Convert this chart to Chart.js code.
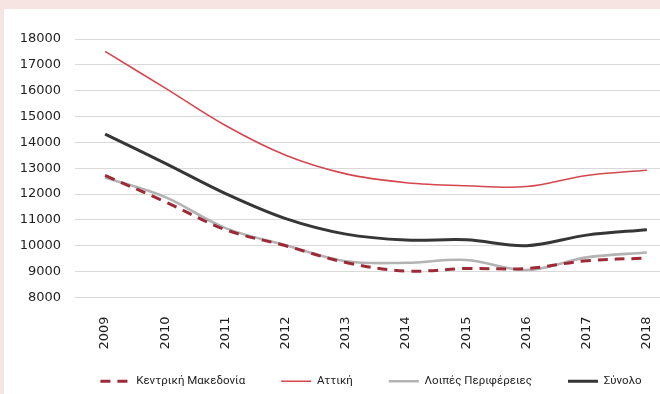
<!DOCTYPE html>
<html>
<head>
<meta charset="utf-8">
<script src="https://cdn.jsdelivr.net/npm/chart.js@4.4.1/dist/chart.umd.min.js"></script>
<style>
  html, body { margin: 0; padding: 0; width: 660px; height: 394px; overflow: hidden; background: #f5e4e1; }
  #panel { position: absolute; left: 4px; top: 9px; width: 760px; height: 440px; background: #fff; }
  #chart { position: absolute; left: 0; top: 0; }
</style>
</head>
<body>
<div id="panel"><canvas id="chart" width="734" height="409"></canvas></div>
<script>
  'use strict';

  // Years on the category axis
  const years = ['2009', '2010', '2011', '2012', '2013', '2014', '2015', '2016', '2017', '2018'];

  // Series values
  const kentrikiMakedonia = [12720, 11700, 10620, 10000, 9350, 9020, 9120, 9120, 9420, 9520];
  const attiki = [17520, 16100, 14650, 13500, 12780, 12440, 12320, 12290, 12720, 12920];
  const loipesPerifereies = [12640, 11880, 10680, 10020, 9400, 9340, 9450, 9060, 9550, 9740];
  const synolo = [14320, 13190, 12020, 11050, 10450, 10220, 10230, 10000, 10410, 10620];

  // Y axis range
  const yMin = 8000;
  const yMax = 18000;
  const yStep = 1000;

  const tickFont = { family: 'DejaVu Sans', size: 13 };

  // Pull the legend a bit closer to the axis labels
  const legendLift = {
    id: 'legendLift',
    afterLayout: function (chart) {
      if (chart.legend) chart.legend.top -= 21;
    }
  };

  const ctx = document.getElementById('chart');

  new Chart(ctx, {
    type: 'line',
    data: {
      labels: years,
      datasets: [
        {
          label: 'Κεντρική Μακεδονία',
          data: kentrikiMakedonia,
          borderColor: '#9e2a38',
          borderWidth: 3,
          borderDash: [10, 7]
        },
        {
          label: 'Αττική',
          data: attiki,
          borderColor: '#d4474f',
          borderWidth: 1.6
        },
        {
          label: 'Λοιπές Περιφέρειες',
          data: loipesPerifereies,
          borderColor: '#b3b3b3',
          borderWidth: 2.6
        },
        {
          label: 'Σύνολο',
          data: synolo,
          borderColor: '#363636',
          borderWidth: 3
        }
      ]
    },
    plugins: [legendLift],
    options: {
      responsive: false,
      animation: false,
      layout: {
        padding: { top: 30, left: 0, right: 0, bottom: 0 }
      },
      elements: {
        line: { tension: 0.35, fill: false },
        point: { radius: 0, hoverRadius: 0 }
      },
      plugins: {
        tooltip: { enabled: false },
        legend: {
          display: true,
          position: 'bottom',
          labels: {
            usePointStyle: true,
            pointStyleWidth: 30,
            padding: 36,
            color: '#222',
            font: { family: 'Roboto', size: 11.5 },
            generateLabels: function (chart) {
              return chart.data.datasets.map(function (ds, i) {
                return {
                  text: ds.label,
                  strokeStyle: ds.borderColor,
                  fillStyle: ds.borderColor,
                  lineWidth: ds.borderWidth,
                  lineDash: ds.borderDash || [],
                  pointStyle: 'line',
                  hidden: false,
                  datasetIndex: i,
                  fontColor: '#222'
                };
              });
            }
          }
        }
      },
      scales: {
        x: {
          offset: true,
          grid: { display: false },
          border: { display: false },
          ticks: {
            autoSkip: false,
            minRotation: 90,
            maxRotation: 90,
            padding: 11,
            color: '#1f1f1f',
            font: tickFont
          }
        },
        y: {
          min: yMin,
          max: yMax,
          grid: { color: '#d9d9d9', lineWidth: 1, drawTicks: false },
          border: { display: false },
          ticks: {
            stepSize: yStep,
            padding: 14,
            color: '#1f1f1f',
            font: tickFont,
            callback: function (value) {
              return String(value);
            }
          },
          afterFit: function (scale) {
            scale.width = 71;
          }
        },
        // empty axis that keeps room on the right so the plot runs past the frame
        yRight: {
          position: 'right',
          display: true,
          grid: { display: false },
          border: { display: false },
          ticks: { display: false },
          afterFit: function (scale) {
            scale.width = 61;
          }
        }
      }
    }
  });
</script>
</body>
</html>
